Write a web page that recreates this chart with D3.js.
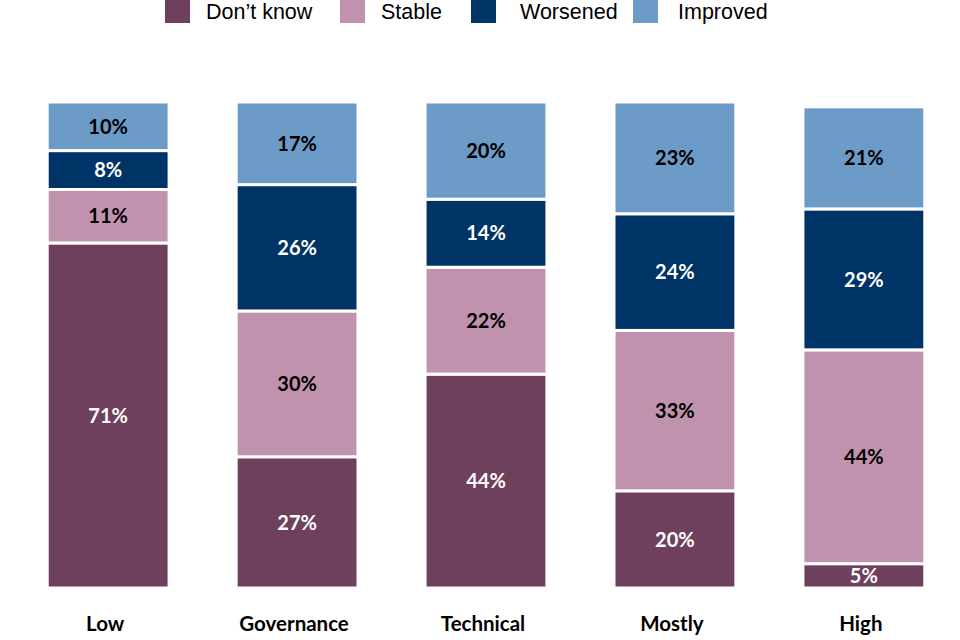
<!DOCTYPE html>
<html>
<head>
<meta charset="utf-8">
<script src="https://cdn.jsdelivr.net/npm/d3@7"></script>
<style>
  body { margin: 0; background: #fff; }
</style>
</head>
<body>
<div id="chart"></div>
<script>
const categories = ["Low", "Governance", "Technical", "Mostly", "High"];
const seriesNames = ["Don\u2019t know", "Stable", "Worsened", "Improved"];
const dontKnow = [71, 27, 44, 20, 5];
const stable = [11, 30, 22, 33, 44];
const worsened = [8, 26, 14, 24, 29];
const improved = [10, 17, 20, 23, 21];

const colors = ["#6f3f5e", "#c192ae", "#003366", "#6b9bc6"];
const labelColors = ["#fff", "#000", "#fff", "#000"];

const rows = categories.map((c, i) => ({
  cat: c, d0: dontKnow[i], d1: stable[i], d2: worsened[i], d3: improved[i]
}));
const stack = d3.stack().keys(["d0", "d1", "d2", "d3"])(rows);

const W = 960, H = 640;
const svg = d3.select("#chart").append("svg")
  .attr("width", W).attr("height", H);

const x = d3.scaleBand()
  .domain(categories)
  .range([0, 972])
  .paddingInner(0.355)
  .paddingOuter(0.25);

const y = d3.scaleLinear()
  .domain([0, 100])
  .range([588, 102]);

const layers = svg.selectAll("g.layer")
  .data(stack)
  .enter().append("g")
  .attr("class", "layer");

layers.selectAll("rect")
  .data((s, k) => s.map(d => ({ d, k })))
  .enter().append("rect")
  .attr("x", o => x(o.d.data.cat))
  .attr("width", x.bandwidth())
  .attr("y", o => y(o.d[1]))
  .attr("height", o => y(o.d[0]) - y(o.d[1]))
  .attr("fill", o => colors[o.k])
  .attr("stroke", "#fff")
  .attr("stroke-width", 3);

layers.selectAll("text")
  .data((s, k) => s.map(d => ({ d, k })))
  .enter().append("text")
  .attr("x", o => x(o.d.data.cat) + x.bandwidth() / 2)
  .attr("y", o => (y(o.d[0]) + y(o.d[1])) / 2)
  .attr("dy", "0.36em")
  .attr("text-anchor", "middle")
  .style("font-family", "Lato, 'Open Sans', sans-serif")
  .style("font-weight", "bold")
  .style("font-size", "20px")
  .attr("fill", o => labelColors[o.k])
  .text(o => (o.d[1] - o.d[0]) + "%");

// category labels
svg.append("g")
  .selectAll("text")
  .data(categories)
  .enter().append("text")
  .attr("x", d => x(d) + x.bandwidth() / 2 - 3)
  .attr("y", 631)
  .attr("text-anchor", "middle")
  .style("font-family", "Lato, 'Open Sans', sans-serif")
  .style("font-weight", "bold")
  .style("font-size", "20.5px")
  .attr("fill", "#000")
  .text(d => d);

// legend
const legendX = [165, 340, 471, 633];
const legendTextX = [206, 381, 520, 678];
const legend = svg.append("g");
seriesNames.forEach((n, i) => {
  legend.append("rect")
    .attr("x", legendX[i]).attr("y", 0)
    .attr("width", 25).attr("height", 23)
    .attr("fill", colors[i]);
  legend.append("text")
    .attr("x", legendTextX[i]).attr("y", 19)
    .style("font-family", "'Liberation Sans', Arial, sans-serif")
    .style("font-size", "21.5px")
    .attr("fill", "#000")
    .text(n);
});
</script>
</body>
</html>
